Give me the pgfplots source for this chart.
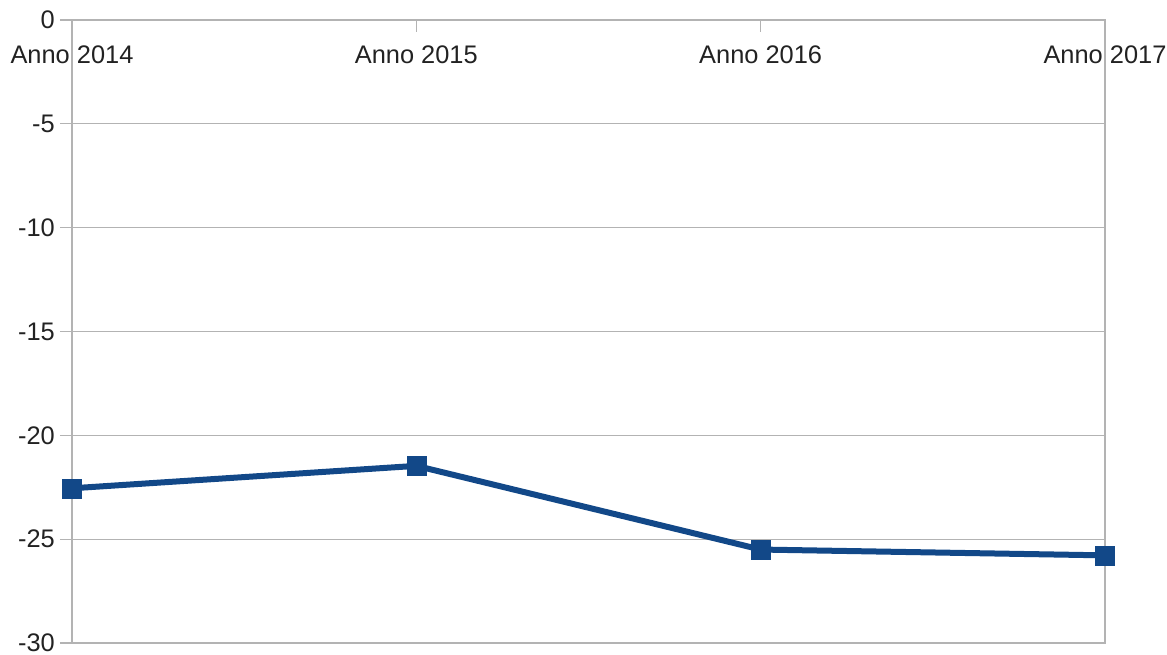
\documentclass[border=0pt]{standalone}
\usepackage{fontspec}
\setmainfont{Liberation Sans}
\usepackage{pgfplots}
\pgfplotsset{compat=1.18}
\definecolor{serie}{RGB}{18,72,136}
\definecolor{grigio}{RGB}{179,179,179}
\definecolor{testo}{RGB}{34,34,34}
\begin{document}
\begin{tikzpicture}
\useasboundingbox (0,0) rectangle (1167bp,655bp);
\begin{axis}[
  at={(72bp,12bp)}, anchor=south west,
  scale only axis, width=1033bp, height=623bp,
  xmin=0, xmax=3, ymin=-30, ymax=0,
  xtick={0,1,2,3},
  xticklabels={Anno 2014,Anno 2015,Anno 2016,Anno 2017},
  ytick={-30,-25,-20,-15,-10,-5,0},
  yticklabels={-30,-25,-20,-15,-10,-5,0},
  xtick pos=upper, ytick pos=left,
  xtick align=inside, ytick align=outside,
  major tick length=12bp,
  tick style={grigio, line width=1.2bp},
  axis line style={grigio, line width=1.3bp},
  ymajorgrids, xmajorgrids=false,
  major grid style={grigio, line width=1.2bp},
  xticklabel pos=upper,
  xticklabel style={anchor=center, yshift=-35bp, text=testo, font=\fontsize{25.5}{30}\selectfont},
  yticklabel style={text=testo, font=\fontsize{25.5}{30}\selectfont, inner sep=5bp},
  clip=false,
]
\addplot[serie, line width=6bp, mark=square*, mark size=9.5bp, mark options={solid, fill=serie, draw=serie, line width=0.5bp}]
  coordinates {(0,-22.55) (1,-21.47) (2,-25.5) (3,-25.78)};
\end{axis}
\end{tikzpicture}
\end{document}
